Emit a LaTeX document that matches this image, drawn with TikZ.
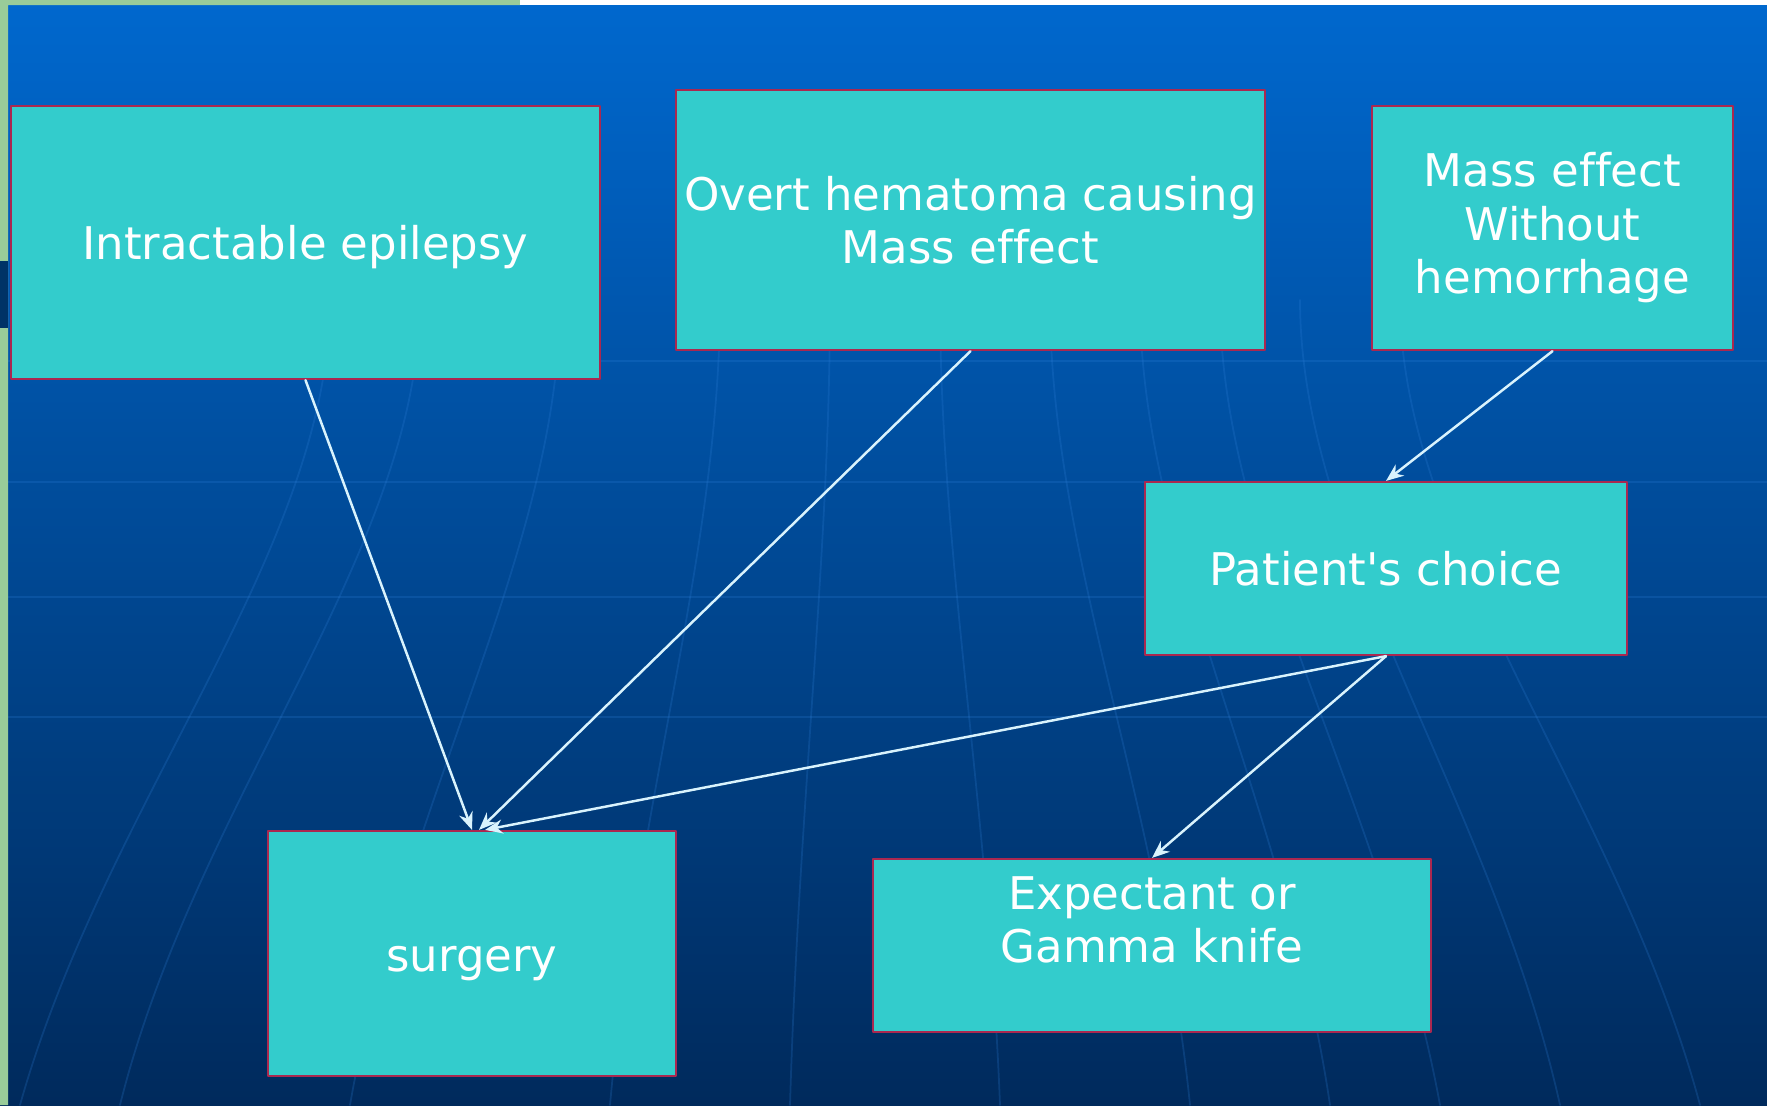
\documentclass[tikz,border=0pt]{standalone}
\usepackage{fontspec}
\newfontfamily\slidefont[Ligatures=NoCommon]{DejaVu Sans}
\usetikzlibrary{arrows.meta}
\definecolor{boxfill}{RGB}{51,204,204}
\definecolor{boxline}{RGB}{170,40,80}
\definecolor{bgtop}{RGB}{0,104,206}
\definecolor{bgmid}{RGB}{0,78,156}
\definecolor{bgbot}{RGB}{0,42,92}
\definecolor{slidegreen}{RGB}{153,204,153}
\definecolor{slidenavy}{RGB}{0,51,102}
\definecolor{gridblue}{RGB}{50,130,220}

\begin{document}
\begin{tikzpicture}[x=0.01cm, y=-0.01cm, line join=round, line cap=round, >={Stealth[length=5pt,width=4pt]},
	box/.style={draw=boxline, line width=0.6pt, fill=boxfill, text=white, align=center, inner sep=0pt,
		font=\slidefont\fontsize{12.8}{15.2}\selectfont},
	boxtext/.style={text=white, align=center, inner sep=0pt, font=\slidefont\fontsize{12.8}{15.2}\selectfont},
	conn/.style={->, white!85!cyan, line width=0.7pt},
	grid/.style={gridblue, line width=0.5pt, opacity=.22}]
	\useasboundingbox (0,0) rectangle (1767,1105);
	% slide background
	\shade[top color=bgtop, middle color=bgmid, bottom color=bgbot] (0,0) rectangle (1767,1105);
	\foreach \y in {361,482,597,717} \draw[grid] (8,\y)--(1767,\y);
	\foreach \xb/\xt in {20/330,120/420,350/560,610/720,790/830,1000/940,1190/1050,1330/1140,1440/1220,1560/1300,1700/1400}
		\draw[grid] (\xb,1105) .. controls ({\xb+(880-\xb)*.1},800) and (\xt,550) .. (\xt,300);
	\fill[slidegreen] (0,0) rectangle (8,1105) (0,0) rectangle (520,5);
	\fill[white] (520,0) rectangle (1767,5);
	\fill[slidenavy] (0,261) rectangle (8,328);
	% boxes
	\node[box, minimum width=5.89cm, minimum height=2.73cm] (epi) at (305.5,242.5) {\raisebox{-.045cm}[\height][\depth]{Intractable epilepsy}};
	\node[box, minimum width=5.89cm, minimum height=2.60cm] (hema) at (970.5,220) {Overt hematoma causing\\Mass effect};
	\node[box, minimum width=3.61cm, minimum height=2.44cm] (mass) at (1552.5,228) {Mass effect\\Without\\hemorrhage};
	\node[box, minimum width=4.82cm, minimum height=1.73cm] (choice) at (1386,568.5) {Patient's choice};
	\node[box, minimum width=4.08cm, minimum height=2.45cm] (surg) at (472,953.5) {\raisebox{-.1cm}[\height][\depth]{surgery}};
	\node[box, minimum width=5.58cm, minimum height=1.73cm] (expect) at (1152,945.5) {};
	\node[boxtext] (expecttxt) at (1152,920) {Expectant or\\Gamma knife};
	% arrows
	\draw[conn] (epi.south) -- (surg.north);
	\draw[conn] (hema.south) -- ([xshift=.07cm]surg.north);
	\draw[conn] (choice.south) -- ([xshift=.13cm]surg.north);
	\draw[conn] (mass.south) -- (choice.north);
	\draw[conn] (choice.south) -- (expect.north);
\end{tikzpicture}
\end{document}
